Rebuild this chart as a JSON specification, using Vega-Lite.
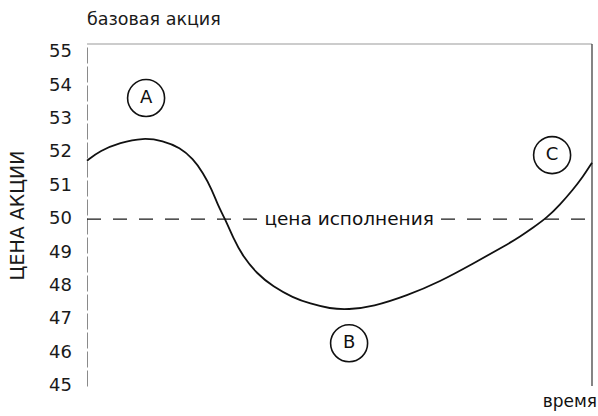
{
  "$schema": "https://vega.github.io/schema/vega-lite/v6.json",
  "width": 505,
  "height": 342,
  "autosize": {"type": "none"},
  "padding": {"left": 87, "top": 44, "right": 6, "bottom": 30},
  "background": "white",
  "view": {"stroke": null},
  "title": {"text": "базовая акция", "anchor": "start", "frame": "group", "offset": 15, "fontSize": 17.5, "fontWeight": "normal", "color": "#1a1a1a", "font": "DejaVu Sans"},
  "datasets": {
    "curve": [
      {"t": 0, "v": 51.753}, {"t": 2.574, "v": 52.053}, {"t": 6.535, "v": 52.292}, {"t": 11.089, "v": 52.442},
      {"t": 15.05, "v": 52.352}, {"t": 18.416, "v": 52.143}, {"t": 20.99, "v": 51.813}, {"t": 22.97, "v": 51.393},
      {"t": 24.752, "v": 50.884}, {"t": 25.941, "v": 50.405}, {"t": 27.327, "v": 50.015}, {"t": 28.911, "v": 49.446},
      {"t": 30.891, "v": 48.876}, {"t": 33.663, "v": 48.367}, {"t": 36.832, "v": 47.977}, {"t": 40.792, "v": 47.648},
      {"t": 44.158, "v": 47.468}, {"t": 48.119, "v": 47.318}, {"t": 51.683, "v": 47.288}, {"t": 56.634, "v": 47.378},
      {"t": 63.366, "v": 47.708}, {"t": 69.901, "v": 48.127}, {"t": 76.436, "v": 48.667}, {"t": 83.168, "v": 49.236},
      {"t": 85.743, "v": 49.476}, {"t": 88.317, "v": 49.745}, {"t": 91.089, "v": 50.045}, {"t": 93.663, "v": 50.435},
      {"t": 96.238, "v": 50.884}, {"t": 98.218, "v": 51.274}, {"t": 100, "v": 51.693}
    ],
    "strike": [
      {"t0": 0, "t1": 33.7, "v": 50},
      {"t0": 70.1, "t1": 100, "v": 50}
    ],
    "points": [
      {"label": "A", "t": 11.7, "v": 53.63},
      {"label": "B", "t": 51.9, "v": 46.28},
      {"label": "C", "t": 92.1, "v": 51.92}
    ],
    "ticklabels": [
      {"t": 0, "v": 45}, {"t": 0, "v": 46}, {"t": 0, "v": 47}, {"t": 0, "v": 48}, {"t": 0, "v": 49},
      {"t": 0, "v": 50}, {"t": 0, "v": 51}, {"t": 0, "v": 52}, {"t": 0, "v": 53}, {"t": 0, "v": 54}, {"t": 0, "v": 55}
    ],
    "notes": [
      {"note": "цена исполнения", "t": 51.9, "v": 50}
    ],
    "xlabel": [
      {"note": "время", "t": 100, "v": 45}
    ],
    "top": [{"v": 55.25}],
    "right": [{"t": 100}]
  },
  "layer": [
    {
      "data": {"name": "top"},
      "mark": {"type": "rule", "stroke": "#9a9a9a", "strokeWidth": 1.2},
      "encoding": {
        "y": {
          "field": "v", "type": "quantitative",
          "scale": {"domain": [45, 55.25], "nice": false, "zero": false},
          "axis": {
            "labels": false, "grid": false, "ticks": false,
            "domainColor": "#8a8a8a", "domainWidth": 1, "domainDash": [16, 3],
            "title": "ЦЕНА АКЦИИ", "titleFontSize": 19, "titleFontWeight": "normal",
            "titleColor": "#1a1a1a", "titleFont": "DejaVu Sans", "titlePadding": 60
          }
        }
      }
    },
    {
      "data": {"name": "right"},
      "mark": {"type": "rule", "stroke": "#333333", "strokeWidth": 1.2},
      "encoding": {"x": {"field": "t", "type": "quantitative", "scale": {"domain": [0, 100], "nice": false, "zero": false}, "axis": null}}
    },
    {
      "data": {"name": "strike"},
      "mark": {"type": "rule", "stroke": "#1a1a1a", "strokeWidth": 1.3, "strokeDash": [14, 12]},
      "encoding": {
        "x": {"field": "t0", "type": "quantitative", "scale": {"domain": [0, 100], "nice": false, "zero": false}, "axis": null},
        "x2": {"field": "t1"},
        "y": {"field": "v", "type": "quantitative", "scale": {"domain": [45, 55.25], "nice": false, "zero": false}}
      }
    },
    {
      "data": {"name": "curve"},
      "mark": {"type": "line", "interpolate": "basis", "stroke": "#111111", "strokeWidth": 1.8},
      "encoding": {
        "x": {"field": "t", "type": "quantitative", "scale": {"domain": [0, 100], "nice": false, "zero": false}, "axis": null},
        "y": {"field": "v", "type": "quantitative", "scale": {"domain": [45, 55.25], "nice": false, "zero": false}}
      }
    },
    {
      "data": {"name": "ticklabels"},
      "mark": {"type": "text", "fontSize": 18, "color": "#1a1a1a", "align": "right", "baseline": "middle", "dx": -15, "font": "DejaVu Sans"},
      "encoding": {
        "x": {"field": "t", "type": "quantitative", "scale": {"domain": [0, 100], "nice": false, "zero": false}},
        "y": {"field": "v", "type": "quantitative", "scale": {"domain": [45, 55.25], "nice": false, "zero": false}},
        "text": {"field": "v", "type": "quantitative", "format": "d"}
      }
    },
    {
      "data": {"name": "points"},
      "mark": {"type": "point", "shape": "circle", "size": 1369, "stroke": "#111111", "strokeWidth": 1.6, "filled": false, "opacity": 1},
      "encoding": {
        "x": {"field": "t", "type": "quantitative", "scale": {"domain": [0, 100], "nice": false, "zero": false}},
        "y": {"field": "v", "type": "quantitative", "scale": {"domain": [45, 55.25], "nice": false, "zero": false}}
      }
    },
    {
      "data": {"name": "points"},
      "mark": {"type": "text", "fontSize": 18, "color": "#111111", "align": "center", "baseline": "middle", "font": "DejaVu Sans"},
      "encoding": {
        "x": {"field": "t", "type": "quantitative", "scale": {"domain": [0, 100], "nice": false, "zero": false}},
        "y": {"field": "v", "type": "quantitative", "scale": {"domain": [45, 55.25], "nice": false, "zero": false}},
        "text": {"field": "label", "type": "nominal"}
      }
    },
    {
      "data": {"name": "notes"},
      "mark": {"type": "text", "fontSize": 18.5, "color": "#111111", "align": "center", "baseline": "middle", "font": "DejaVu Sans"},
      "encoding": {
        "x": {"field": "t", "type": "quantitative", "scale": {"domain": [0, 100], "nice": false, "zero": false}},
        "y": {"field": "v", "type": "quantitative", "scale": {"domain": [45, 55.25], "nice": false, "zero": false}},
        "text": {"field": "note", "type": "nominal"}
      }
    },
    {
      "data": {"name": "xlabel"},
      "mark": {"type": "text", "fontSize": 17, "color": "#111111", "align": "right", "baseline": "middle", "dx": 5, "dy": 16, "font": "DejaVu Sans"},
      "encoding": {
        "x": {"field": "t", "type": "quantitative", "scale": {"domain": [0, 100], "nice": false, "zero": false}},
        "y": {"field": "v", "type": "quantitative", "scale": {"domain": [45, 55.25], "nice": false, "zero": false}},
        "text": {"field": "note", "type": "nominal"}
      }
    }
  ]
}
